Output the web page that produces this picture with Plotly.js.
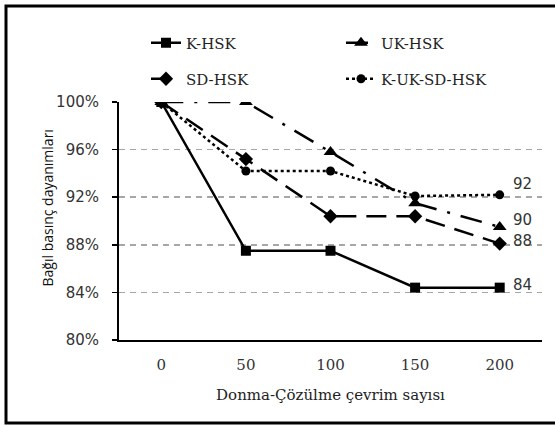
<!DOCTYPE html>
<html>
<head>
<meta charset="utf-8">
<script src="https://cdn.plot.ly/plotly-3.0.1.min.js"></script>
<style>html,body{margin:0;padding:0;background:#fff;}#chart{width:555px;height:427px;}</style>
</head>
<body>
<div id="chart"></div>
<script>
const cycles = ['0', '50', '100', '150', '200'];
const kHSK = [100, 87.5, 87.5, 84.4, 84.4];
const ukHSK = [100, 100, 95.8, 91.5, 89.5];
const sdHSK = [100, 95.2, 90.4, 90.4, 88.1];
const kukSdHSK = [100, 94.2, 94.2, 92.1, 92.2];
const seriesNames = ['K-HSK', 'UK-HSK', 'SD-HSK', 'K-UK-SD-HSK'];
const endLabels = ['84', '90', '88', '92'];
const yTicks = [80, 84, 88, 92, 96, 100];
const yTickText = ['80%', '84%', '88%', '92%', '96%', '100%'];

const W = 555, H = 427;
const M = {l: 119, r: 13, t: 102, b: 87};
const pw = W - M.l - M.r, ph = H - M.t - M.b;
const px = v => (v - M.l) / pw;
const py = v => (H - M.b - v) / ph;

const serif = 'DejaVu Serif, serif';
const sans = 'DejaVu Sans, sans-serif';

const traces = [
  {x: cycles, y: kHSK, name: seriesNames[0], legend: 'legend', mode: 'lines+markers',
   line: {color: '#000', width: 2.5}, marker: {symbol: 'square', size: 10, color: '#000'}},
  {x: cycles, y: ukHSK, name: seriesNames[1], legend: 'legend', mode: 'lines+markers',
   line: {color: '#000', width: 2.5, dash: '22px,11px,3px,11px'}, marker: {symbol: 'triangle-up', size: 12, color: '#000'}},
  {x: cycles, y: sdHSK, name: seriesNames[2], legend: 'legend2', mode: 'lines+markers',
   line: {color: '#000', width: 2.5, dash: '20px,10px'}, marker: {symbol: 'diamond', size: 11, color: '#000'}},
  {x: cycles, y: kukSdHSK, name: seriesNames[3], legend: 'legend2', mode: 'lines+markers',
   line: {color: '#000', width: 2.5, dash: '3px,3px'}, marker: {symbol: 'circle', size: 9, color: '#000'}}
];

const finals = [kHSK[4], ukHSK[4], sdHSK[4], kukSdHSK[4]];
const lastIdx = cycles.length - 1;
const yShifts = [3, 7, 3, 11];
const annotations = endLabels.map((t, i) => ({
  x: lastIdx, y: finals[i], xref: 'x', yref: 'y', text: t, showarrow: false,
  xshift: 23, yshift: yShifts[i], font: {family: sans, size: 15, color: '#333'}
}));
annotations.push({
  x: px(35), y: py(208), xref: 'paper', yref: 'paper', text: 'Bağıl basınç dayanımları',
  showarrow: false, textangle: -90, font: {family: 'Open Sans, sans-serif', size: 14, color: '#111'}
});

const legendBase = {orientation: 'h', entrywidth: 150, entrywidthmode: 'pixels',
  xanchor: 'left', yanchor: 'middle', bgcolor: 'rgba(0,0,0,0)',
  font: {family: serif, size: 15, color: '#222'}, itemclick: false};

const layout = {
  width: W, height: H, margin: M, paper_bgcolor: '#fff', plot_bgcolor: '#fff',
  showlegend: true,
  legend: Object.assign({}, legendBase, {x: px(146), y: py(43)}),
  legend2: Object.assign({}, legendBase, {x: px(146), y: py(79)}),
  xaxis: {type: 'category', range: [-0.5, 4.5], showgrid: false, showline: true, linecolor: '#000', linewidth: 2,
    ticks: '', ticklabelstandoff: 10, tickfont: {family: serif, size: 15, color: '#333'}, zeroline: false,
    title: {text: 'Donma-Çözülme çevrim sayısı', font: {family: serif, size: 15, color: '#222'}, standoff: 16}},
  yaxis: {range: [80, 100], tickvals: yTicks, ticktext: yTickText, showline: true, linecolor: '#000', linewidth: 2,
    ticks: 'outside', ticklen: 5, tickcolor: '#000', tickwidth: 1.5, ticklabelstandoff: 10,
    showgrid: true, gridcolor: '#a6a6a6', gridwidth: 1.5, griddash: '6px,5px', zeroline: false,
    tickfont: {family: sans, size: 15, color: '#333'}},
  annotations: annotations,
  shapes: [{type: 'rect', xref: 'paper', yref: 'paper', x0: px(6), x1: px(560), y0: py(6), y1: py(423),
    line: {color: '#000', width: 3}, fillcolor: 'rgba(0,0,0,0)', layer: 'below'}]
};

Plotly.newPlot('chart', traces, layout, {displayModeBar: false, staticPlot: true});
</script>
</body>
</html>
